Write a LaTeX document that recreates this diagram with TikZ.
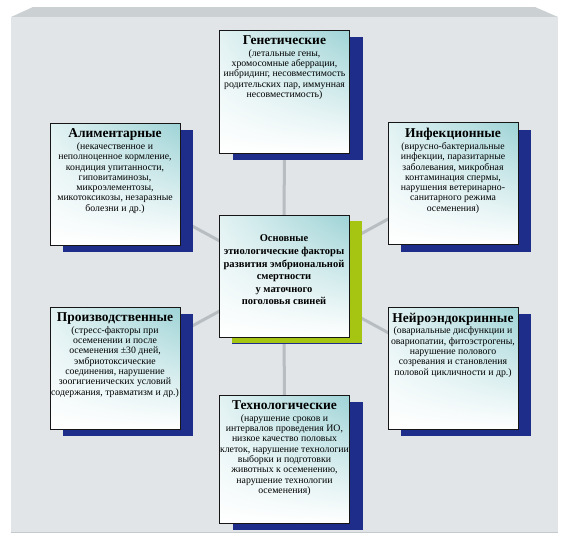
\documentclass[tikz,border=0pt]{standalone}
\usepackage{fontspec}
\setmainfont{Liberation Serif}
\usetikzlibrary{positioning,shadows,shadings,backgrounds}
\definecolor{panelFront}{RGB}{225,229,232}
\definecolor{panelTop}{RGB}{203,208,211}
\definecolor{panelEdge}{RGB}{196,201,204}
\definecolor{linkGrey}{RGB}{184,189,193}
\definecolor{factorNavy}{RGB}{30,44,138}
\definecolor{factorLime}{RGB}{166,196,18}
\definecolor{factorTeal}{RGB}{158,211,214}
\definecolor{factorBorder}{RGB}{22,22,22}

\begin{document}
\begin{tikzpicture}[x=1pt, y=-1pt,
  factorbox/.style={draw=factorBorder, line width=0.9pt, inner sep=0pt,
                    minimum width=130pt, minimum height=#1,
                    upper left=factorTeal!30!white, upper right=factorTeal,
                    lower left=white, lower right=white,
                    drop shadow={shadow xshift=13pt, shadow yshift=-7pt,
                                 fill=factorNavy, opacity=1}},
  factorbox/.default=122pt,
  corebox/.style={factorbox,
                  drop shadow={shadow xshift=13pt, shadow yshift=-6pt,
                               fill=factorLime, opacity=1}},
  factortext/.style={align=center, inner sep=0pt,
                     font=\fontsize{9.8}{10.3}\selectfont},
  coretext/.style={align=center, inner sep=0pt,
                   font=\fontsize{10.5}{12.6}\selectfont\bfseries},
  link/.style={linkGrey, line width=3pt},
]

\def\lx{115}    % left column centre
\def\mx{284.5}  % middle column centre
\def\rx{453}    % right column centre
\def\tgap{6pt}  % gap from box top to title

% ─── helper macro: bold title over the small body text ─────────
\newcommand{\factortitle}[1]{{\fontsize{13.5}{14}\selectfont\bfseries #1}\\[1.5pt]}

% ─── background panel ──────────────────────────────────────────
\useasboundingbox (0,0) rectangle (565,541);
\begin{pgfonlayer}{background}
  % top face
  \fill[panelTop] (11,17) -- (33,7) -- (535,7) -- (558,17) -- cycle;
  % front face
  \fill[panelFront] (11,17) rectangle (558,533);
  \draw[panelEdge, line width=1pt] (11,532.5) -- (558,532.5);
\end{pgfonlayer}

% ─── centre box ────────────────────────────────────────────────
\node[corebox] (core) at (284,276) {};
\node[coretext] (coretxt) at (284,270)
  {Основные\\этиологические факторы\\развития эмбриональной\\смертности\\у маточного\\поголовья свиней};

% ─── top: genetic ──────────────────────────────────────────────
\node[factorbox=123pt] (gen) at (\mx,91.5) {};
\node[factortext, below=\tgap of gen.north] (gentxt)
  {\factortitle{Генетические}(летальные гены,\\хромосомные аберрации,\\инбридинг, несовместимость\\родительских пар, иммунная\\несовместимость)};

% ─── left column ───────────────────────────────────────────────
\node[factorbox] (alim) at (\lx,184) {};
\node[factortext, below=\tgap of alim.north] (alimtxt)
  {\factortitle{Алиментарные}(некачественное и\\неполноценное кормление,\\кондиция упитанности,\\гиповитаминозы,\\микроэлементозы,\\микотоксикозы, незаразные\\болезни и др.)};

\node[factorbox] (proizv) at (\lx,368) {};
\node[factortext, below=\tgap of proizv.north] (proizvtxt)
  {\factortitle{Производственные}(стресс-факторы при\\осеменении и после\\осеменения ±30 дней,\\эмбриотоксические\\соединения, нарушение\\зоогигиенических условий\\содержания, травматизм и др.)};

% ─── right column ──────────────────────────────────────────────
\node[factorbox] (infek) at (\rx,183.5) {};
\node[factortext, below=\tgap of infek.north] (infektxt)
  {\factortitle{Инфекционные}(вирусно-бактериальные\\инфекции, паразитарные\\заболевания, микробная\\контаминация спермы,\\нарушения ветеринарно-\\санитарного режима\\осеменения)};

\node[factorbox] (neiro) at (\rx,368) {};
\node[factortext, below=\tgap of neiro.north] (neirotxt)
  {\factortitle{Нейроэндокринные}(овариальные дисфункции и\\овариопатии, фитоэстрогены,\\нарушение полового\\созревания и становления\\половой цикличности и др.)};

% ─── bottom: technological ─────────────────────────────────────
\node[factorbox=128pt] (tekh) at (\mx,459) {};
\node[factortext, below=\tgap of tekh.north] (tekhtxt)
  {\factortitle{Технологические}(нарушение сроков и\\интервалов проведения ИО,\\низкое качество половых\\клеток, нарушение технологии\\выборки и подготовки\\животных к осеменению,\\нарушение технологии\\осеменения)};

% ─── connectors (behind the boxes) ─────────────────────────────
\begin{pgfonlayer}{background}
  \foreach \to in {gen, alim, infek, proizv, neiro, tekh}{
    \draw[link] (core.center) -- (\to.center);
  }
\end{pgfonlayer}

\end{tikzpicture}
\end{document}
